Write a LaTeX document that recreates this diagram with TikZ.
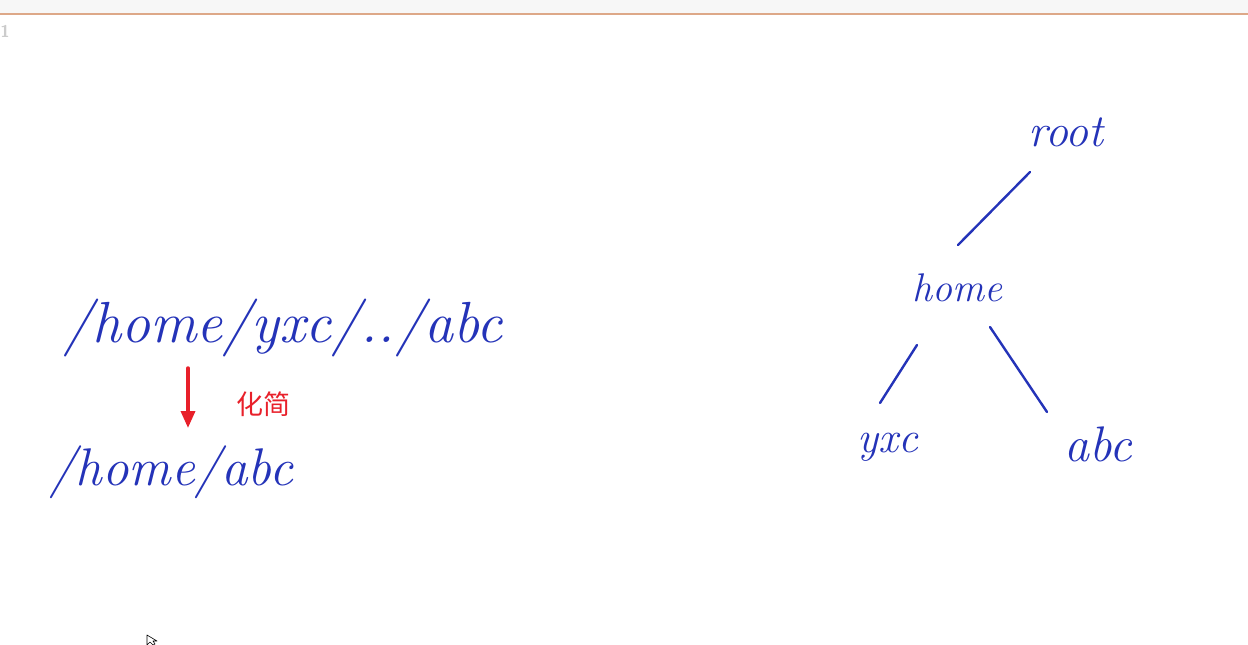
\documentclass[tikz,border=0pt]{standalone}
\usepackage{fontspec}
\newfontfamily\cjk{Noto Sans CJK SC}
\usetikzlibrary{arrows.meta, positioning}
\definecolor{inkblue}{HTML}{2433B8}
\definecolor{inkred}{HTML}{E8202A}
\definecolor{barline}{HTML}{DDA888}
\tikzset{
  >={Triangle[length=17pt, width=14pt]},
  every picture/.style={line cap=round, line join=round},
  % handwritten labels
  ink/.style={inkblue, inner sep=0pt, font=\itshape},
  edge/.style={inkblue, line width=2.4pt},
  simplify/.style={->, inkred, line width=3.5pt},
}
\newcommand{\fsz}[1]{\fontsize{#1}{#1}\selectfont}

\begin{document}
\begin{tikzpicture}[x=1pt, y=-1pt]
  \useasboundingbox (0,0) rectangle (1248,645);
  % ---- editor frame
  \fill[gray!6] (0,0) rectangle (1248,13);
  \draw[barline, line width=1.2pt] (0,14) -- (1248,14);
  \node[gray!40, font=\sffamily\bfseries\fsz{17}] (lineno) at (5,31) {1};
  % ---- path and its simplified form
  \node[ink, font=\itshape\fsz{58}] (longpath) at (283,328) {/home/yxc/../abc};
  \node[ink, font=\itshape\fsz{53}] (shortpath) at (171,472) {/home/abc};
  \draw[simplify] ([shift={(-95,40)}]longpath.center) -- ([shift={(17,-44)}]shortpath.center);
  \node[inkred, font=\cjk\fsz{27}] (simplabel) at (263,404) {化简};
  % ---- directory tree
  \node[ink, font=\itshape\fsz{46}] (root) at (1066,132) {root};
  \node[ink, font=\itshape\fsz{40}] (home) at (957,288) {home};
  \node[ink, font=\itshape\fsz{44}] (yxc) at (888,447) {yxc};
  \node[ink, font=\itshape\fsz{50}] (abc) at (1098,444) {abc};
  \draw[edge] ([shift={(-36,40)}]root.center) -- ([shift={(1,-43)}]home.center);
  \draw[edge] ([shift={(-40,57)}]home.center) -- ([shift={(-8,-44)}]yxc.center);
  \draw[edge] ([shift={(33,39)}]home.center) -- ([shift={(-51,-32)}]abc.center);
  % ---- mouse pointer
  \draw[black, line width=0.6pt, fill=white] (147,635) -- (147,645) -- (150,642) -- (153,645) -- (155,644) -- (153,641) -- (157,641) -- cycle;
\end{tikzpicture}
\end{document}
